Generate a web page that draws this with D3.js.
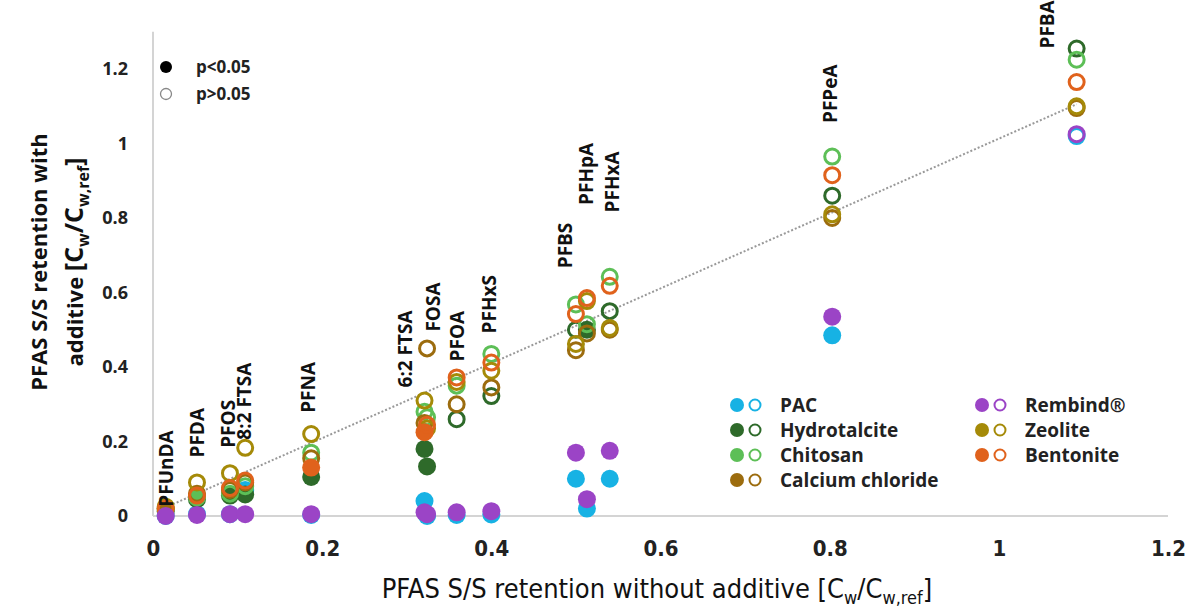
<!DOCTYPE html>
<meta charset="utf-8">
<style>
body { margin: 0; background: #fff; }
svg { display: block; font-family: "Open Sans", "DejaVu Sans", sans-serif; }
.narrow { font-family: "Liberation Sans Narrow", "DejaVu Sans Condensed", sans-serif; }
.lbl { font-size: 19px; font-weight: 700; fill: #111; }
.tick text { fill: #222; }
</style>
<svg width="1190" height="610"></svg>
<script src="https://d3js.org/d3.v7.min.js"></script>
<script>
// PFAS compounds and their retention without additive (x)
var pfas = ["PFUnDA", "PFDA", "PFOS", "8:2 FTSA", "PFNA", "6:2 FTSA", "FOSA",
            "PFOA", "PFHxS", "PFBS", "PFHpA", "PFHxA", "PFPeA", "PFBA"];
var xNoAdditive = [0.015, 0.052, 0.091, 0.109, 0.187, 0.321, 0.324,
                   0.359, 0.40, 0.50, 0.513, 0.54, 0.803, 1.092];

// label anchor (bottom of rotated text), in data units
var labelX = [0.015, 0.052, 0.089, 0.108, 0.184, 0.298, 0.331, 0.36, 0.397, 0.487, 0.512, 0.543, 0.801, 1.057];
var labelY = [0.025, 0.157, 0.183, 0.205, 0.277, 0.345, 0.495, 0.415, 0.49, 0.665, 0.835, 0.815, 1.055, 1.255];

var additives = ["PAC", "Hydrotalcite", "Chitosan", "Calcium chloride", "Rembind®", "Zeolite", "Bentonite"];
var additiveColors = ["#17b2e4", "#2e6a2a", "#5dbf57", "#9c6c0e", "#9b44c6", "#a58a08", "#e0621c"];

// retention with additive (y), one array per additive, same order as pfas
var yPAC          = [0.0, 0.005, 0.005, 0.07, 0.003, 0.04, 0.0, 0.003, 0.004, 0.10, 0.02, 0.10, 0.485, 1.02];
var yHydrotalcite = [0.012, 0.045, 0.055, 0.058, 0.105, 0.18, 0.133, 0.26, 0.322, 0.50, 0.50, 0.55, 0.86, 1.255];
var yChitosan     = [0.018, 0.05, 0.06, 0.08, 0.17, 0.28, 0.265, 0.35, 0.435, 0.568, 0.515, 0.642, 0.965, 1.225];
var yCaCl         = [0.02, 0.06, 0.07, 0.09, 0.155, 0.25, 0.45, 0.30, 0.345, 0.445, 0.49, 0.50, 0.80, 1.095];
var yRembind      = [0.0, 0.003, 0.005, 0.005, 0.005, 0.01, 0.005, 0.01, 0.013, 0.17, 0.045, 0.175, 0.535, 1.025];
var yZeolite      = [0.025, 0.09, 0.115, 0.183, 0.22, 0.31, 0.235, 0.36, 0.39, 0.462, 0.577, 0.505, 0.81, 1.10];
var yBentonite    = [0.02, 0.055, 0.075, 0.095, 0.13, 0.225, 0.245, 0.372, 0.412, 0.542, 0.585, 0.618, 0.915, 1.165];

// 1 = p<0.05 (filled), 0 = p>0.05 (open)
var sigPAC          = [1,1,1,1,1,1,1,1,1,1,1,1,1,0];
var sigHydrotalcite = [1,1,1,1,1,1,1,0,0,0,1,0,0,0];
var sigChitosan     = [0,1,0,0,0,0,0,0,0,0,0,0,0,0];
var sigCaCl         = [1,0,0,0,0,0,0,0,0,0,0,0,0,0];
var sigRembind      = [1,1,1,1,1,1,1,1,1,1,1,1,1,0];
var sigZeolite      = [0,0,0,0,0,0,0,0,0,0,0,0,0,0];
var sigBentonite    = [0,0,0,0,1,1,0,0,0,0,0,0,0,0];

var xTicks = [0, 0.2, 0.4, 0.6, 0.8, 1, 1.2];
var yTicks = [0, 0.2, 0.4, 0.6, 0.8, 1, 1.2];
var trend = {slope: 1.005, intercept: 0.008, from: 0.015, to: 1.092};

var yAll = [yPAC, yHydrotalcite, yChitosan, yCaCl, yRembind, yZeolite, yBentonite];
var sigAll = [sigPAC, sigHydrotalcite, sigChitosan, sigCaCl, sigRembind, sigZeolite, sigBentonite];

var svg = d3.select("svg");
var x = d3.scaleLinear().domain([0, 1.2]).range([153, 1168]);
var y = d3.scaleLinear().domain([0, 1.3]).range([516, 516 - 1.3 * 372.5]);
var fmt = function(d) { return String(+d.toFixed(1)); };

// axis lines
svg.append("line").attr("x1", x(0)).attr("x2", x(1.2)).attr("y1", y(0)).attr("y2", y(0))
    .attr("stroke", "#d4d4d4").attr("stroke-width", 2);
svg.append("line").attr("x1", x(0)).attr("x2", x(0)).attr("y1", y(0)).attr("y2", y(1.3))
    .attr("stroke", "#d4d4d4").attr("stroke-width", 2);

var gx = svg.append("g").attr("transform", "translate(0," + y(0) + ")")
    .call(d3.axisBottom(x).tickValues(xTicks).tickFormat(fmt).tickSize(0).tickPadding(24));
gx.select(".domain").remove();
gx.selectAll("text").attr("class", "narrow").style("font-size", "22px").style("font-weight", "700");

var gy = svg.append("g").attr("transform", "translate(128,0)")
    .call(d3.axisLeft(y).tickValues(yTicks).tickFormat(fmt).tickSize(0).tickPadding(0));
gy.select(".domain").remove();
gy.selectAll("text").style("font-size", "18px").style("font-weight", "700")
    .style("font-family", "'Open Sans', sans-serif");

// trend line
svg.append("line")
    .attr("x1", x(trend.from)).attr("y1", y(trend.slope * trend.from + trend.intercept))
    .attr("x2", x(trend.to)).attr("y2", y(trend.slope * trend.to + trend.intercept))
    .attr("stroke", "#999").attr("stroke-width", 2).attr("stroke-dasharray", "2,2");

// points; Rembind drawn last so it sits on top at zero
var order = [0, 1, 2, 3, 5, 6, 4];
order.forEach(function(k) {
  var pts = pfas.map(function(p, i) {
    return {x: xNoAdditive[i], y: yAll[k][i], sig: sigAll[k][i]};
  });
  svg.append("g").selectAll("circle").data(pts).enter().append("circle")
      .attr("cx", function(d) { return x(d.x); })
      .attr("cy", function(d) { return y(d.y); })
      .attr("r", function(d) { return d.sig ? 9 : 7.5; })
      .attr("fill", function(d) { return d.sig ? additiveColors[k] : "none"; })
      .attr("stroke", function(d) { return d.sig ? "none" : additiveColors[k]; })
      .attr("stroke-width", 3);
});

// compound labels
svg.append("g").selectAll("text").data(pfas).enter().append("text")
    .attr("class", "lbl")
    .attr("transform", function(d, i) { return "translate(" + x(labelX[i]) + "," + y(labelY[i]) + ") rotate(-90)"; })
    .attr("dy", "0.36em")
    .text(function(d) { return d; });

// significance legend
var sig = svg.append("g");
sig.append("circle").attr("cx", 166).attr("cy", 67).attr("r", 6).attr("fill", "#000");
sig.append("circle").attr("cx", 166).attr("cy", 94).attr("r", 5.5).attr("fill", "none")
    .attr("stroke", "#888").attr("stroke-width", 1.3);
sig.selectAll("text").data(["p<0.05", "p>0.05"]).enter().append("text")
    .attr("x", 196).attr("y", function(d, i) { return 67 + i * 27; }).attr("dy", "0.35em")
    .style("font-size", "17px").style("font-weight", "700").attr("fill", "#222")
    .text(function(d) { return d; });

// additive legend
var legCols = [[0, 1, 2, 3], [4, 5, 6]];
var leg = svg.append("g");
legCols.forEach(function(col, c) {
  col.forEach(function(k, r) {
    var lx = c === 0 ? 737 : 982, ly = 405 + r * 25;
    leg.append("circle").attr("cx", lx).attr("cy", ly).attr("r", 7).attr("fill", additiveColors[k]);
    leg.append("circle").attr("cx", lx + 18).attr("cy", ly).attr("r", 5.5).attr("fill", "none")
        .attr("stroke", additiveColors[k]).attr("stroke-width", 2);
    leg.append("text").attr("x", lx + 43).attr("y", ly).attr("dy", "0.35em")
        .style("font-size", "19px").style("font-weight", "700").attr("fill", "#222")
        .text(additives[k]);
  });
});

// axis titles
var xt = svg.append("text").attr("class", "narrow").attr("x", 657).attr("y", 598)
    .attr("text-anchor", "middle").style("font-size", "27px").attr("fill", "#111")
    .text("PFAS S/S retention without additive [C");
xt.append("tspan").attr("dy", 6).style("font-size", "18px").text("w");
xt.append("tspan").attr("dy", -6).text("/C");
xt.append("tspan").attr("dy", 6).style("font-size", "18px").text("w,ref");
xt.append("tspan").attr("dy", -6).text("]");

var yt = svg.append("g").attr("transform", "translate(0,262) rotate(-90)");
yt.append("text").attr("x", 0).attr("y", 47).attr("text-anchor", "middle")
    .style("font-size", "22px").style("font-weight", "700").attr("fill", "#111")
    .text("PFAS S/S retention with");
var yt2 = yt.append("text").attr("x", 0).attr("y", 83).attr("text-anchor", "middle")
    .style("font-size", "22px").style("font-weight", "700").attr("fill", "#111")
    .text("additive  ");
yt2.append("tspan").style("font-size", "25px").text("[C");
yt2.append("tspan").attr("dy", 6).style("font-size", "16px").text("w");
yt2.append("tspan").attr("dy", -6).style("font-size", "25px").text("/C");
yt2.append("tspan").attr("dy", 6).style("font-size", "16px").text("w,ref");
yt2.append("tspan").attr("dy", -6).style("font-size", "25px").text("]");
</script>
